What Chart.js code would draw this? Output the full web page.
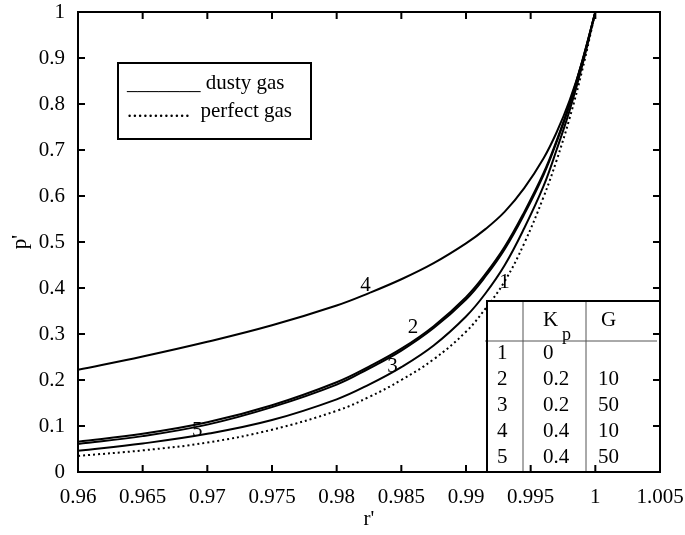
<!DOCTYPE html>
<html>
<head>
<meta charset="utf-8">
<script src="https://cdn.jsdelivr.net/npm/chart.js@4.4.0/dist/chart.umd.min.js"></script>
<style>
  html, body { margin: 0; padding: 0; background: #fff; }
</style>
</head>
<body>
<canvas id="myChart" width="685" height="535"></canvas>
<script>
// r' values shared by all curves
const rValues = [0.96, 0.965, 0.97, 0.975, 0.98, 0.9825, 0.985, 0.9875, 0.99, 0.9915, 0.993, 0.9945, 0.996, 0.997, 0.998, 0.999, 1.0];
// p' for each curve
const p1 = [0.035, 0.047, 0.064, 0.092, 0.133, 0.163, 0.200, 0.245, 0.305, 0.355, 0.415, 0.497, 0.598, 0.677, 0.768, 0.875, 1.0];   // perfect gas
const p2 = [0.066, 0.083, 0.108, 0.145, 0.195, 0.229, 0.268, 0.317, 0.38, 0.43, 0.49, 0.565, 0.65, 0.72, 0.80, 0.895, 1.0];
const p3 = [0.046, 0.062, 0.083, 0.113, 0.158, 0.19, 0.228, 0.275, 0.338, 0.388, 0.45, 0.53, 0.622, 0.70, 0.785, 0.885, 1.0];
const p4 = [0.222, 0.251, 0.283, 0.319, 0.362, 0.389, 0.419, 0.454, 0.497, 0.528, 0.566, 0.617, 0.682, 0.738, 0.807, 0.893, 1.0];
const p5 = [0.061, 0.078, 0.103, 0.141, 0.19, 0.225, 0.264, 0.313, 0.375, 0.425, 0.485, 0.56, 0.646, 0.717, 0.797, 0.893, 1.0];

// curve number labels, placed in data coordinates
const curveLabels = ['1', '2', '3', '4', '5'];
const labelR = [0.99297, 0.9859, 0.98431, 0.98222, 0.96922];
const labelP = [0.413, 0.315, 0.229, 0.4065, 0.0913];

// parameter table
const tableRows = ['1', '2', '3', '4', '5'];
const kpValues = ['0', '0.2', '0.2', '0.4', '0.4'];
const gValues = ['', '10', '50', '10', '50'];

const legendLines = ['_______ dusty gas', '............  perfect gas'];

const FONT = '"Liberation Serif", "DejaVu Serif", serif';
const FS = 21;

function pts(ys) {
  return rValues.map((r, i) => ({ x: r, y: ys[i] }));
}

function curve(ys, dotted) {
  return {
    data: pts(ys),
    borderColor: '#000',
    borderWidth: 2,
    borderDash: dotted ? [2, 3] : [],
    pointRadius: 0,
    fill: false,
    tension: 0.4,
  };
}

const labelsPlugin = {
  id: 'curveLabels',
  beforeDatasetsDraw(chart) {
    const ctx = chart.ctx, x = chart.scales.x, y = chart.scales.y;
    ctx.save();
    ctx.font = FS + 'px ' + FONT;
    ctx.fillStyle = '#000';
    ctx.textAlign = 'center';
    ctx.textBaseline = 'middle';
    curveLabels.forEach((t, i) => {
      ctx.fillText(t, x.getPixelForValue(labelR[i]), y.getPixelForValue(labelP[i]));
    });
    ctx.restore();
  },
  afterDatasetsDraw(chart) {
    const ctx = chart.ctx, a = chart.chartArea;
    ctx.save();
    // legend box
    ctx.fillStyle = '#fff';
    ctx.fillRect(118, 63, 193, 76);
    ctx.strokeStyle = '#000';
    ctx.lineWidth = 2;
    ctx.strokeRect(118, 63, 193, 76);
    ctx.fillStyle = '#000';
    ctx.font = FS + 'px ' + FONT;
    ctx.textAlign = 'left';
    ctx.textBaseline = 'alphabetic';
    ctx.fillText(legendLines[0], 127, 89);
    ctx.fillText(legendLines[1], 127, 117);

    // table
    const tl = 487, tt = 301, tr = a.right, tb = a.bottom;
    ctx.fillStyle = '#fff';
    ctx.fillRect(tl, tt, tr - tl, tb - tt);
    ctx.strokeStyle = '#555';
    ctx.lineWidth = 1;
    ctx.beginPath();
    ctx.moveTo(523, tt); ctx.lineTo(523, tb);
    ctx.moveTo(586, tt); ctx.lineTo(586, tb);
    ctx.moveTo(485, 341); ctx.lineTo(657, 341);
    ctx.stroke();
    ctx.strokeStyle = '#000';
    ctx.lineWidth = 2;
    ctx.strokeRect(tl, tt, tr - tl, tb - tt);

    ctx.fillStyle = '#000';
    ctx.textBaseline = 'middle';
    ctx.font = FS + 'px ' + FONT;
    ctx.fillText('K', 543, 320);
    ctx.fillText('G', 601, 320);
    ctx.font = '18px ' + FONT;
    ctx.fillText('p', 562, 335);
    ctx.font = FS + 'px ' + FONT;
    tableRows.forEach((t, i) => {
      const yy = 353 + i * 26;
      ctx.fillText(t, 497, yy);
      ctx.fillText(kpValues[i], 543, yy);
      ctx.fillText(gValues[i], 598, yy);
    });
    ctx.restore();
  },
  afterDraw(chart) {
    const ctx = chart.ctx, a = chart.chartArea, x = chart.scales.x, y = chart.scales.y;
    ctx.save();
    ctx.strokeStyle = '#000';
    ctx.lineWidth = 2;
    ctx.strokeRect(a.left, a.top, a.right - a.left, a.bottom - a.top);
    ctx.beginPath();
    const len = 7;
    x.ticks.forEach(t => {
      const px = x.getPixelForValue(t.value);
      ctx.moveTo(px, a.bottom); ctx.lineTo(px, a.bottom - len);
      ctx.moveTo(px, a.top); ctx.lineTo(px, a.top + len);
    });
    y.ticks.forEach(t => {
      const py = y.getPixelForValue(t.value);
      ctx.moveTo(a.left, py); ctx.lineTo(a.left + len, py);
      ctx.moveTo(a.right, py); ctx.lineTo(a.right - len, py);
    });
    ctx.stroke();
    ctx.restore();
  }
};

const config = {
  type: 'line',
  data: {
    datasets: [curve(p1, true), curve(p2), curve(p3), curve(p4), curve(p5)]
  },
  options: {
    responsive: false,
    animation: false,
    devicePixelRatio: 1,
    layout: { padding: { left: 0, right: 25, top: 12, bottom: 0 } },
    plugins: {
      legend: { display: false },
      tooltip: { enabled: false },
    },
    scales: {
      x: {
        type: 'linear',
        min: 0.96,
        max: 1.005,
        grid: { display: false },
        border: { display: false },
        ticks: {
          stepSize: 0.005,
          padding: 5,
          color: '#000',
          font: { family: FONT, size: FS },
          maxRotation: 0,
          autoSkip: false,
          callback: v => parseFloat(v.toFixed(3)).toString(),
        },
        title: {
          display: true,
          text: "r'",
          color: '#000',
          font: { family: FONT, size: FS },
          padding: { top: 0, bottom: 3 },
        },
        afterFit: s => { s.height = 63; s.paddingLeft = 0; s.paddingRight = 0; },
      },
      y: {
        type: 'linear',
        min: 0,
        max: 1,
        grid: { display: false },
        border: { display: false },
        ticks: {
          stepSize: 0.1,
          padding: 5,
          color: '#000',
          font: { family: FONT, size: FS },
          autoSkip: false,
          callback: v => parseFloat(v.toFixed(3)).toString(),
        },
        title: {
          display: true,
          text: "p'",
          color: '#000',
          font: { family: FONT, size: FS },
          padding: { top: 8, bottom: 0 },
        },
        afterFit: s => { s.width = 78; s.paddingTop = 0; s.paddingBottom = 0; },
      }
    }
  },
  plugins: [labelsPlugin]
};

const myChart = new Chart(document.getElementById('myChart'), config);
</script>
</body>
</html>
